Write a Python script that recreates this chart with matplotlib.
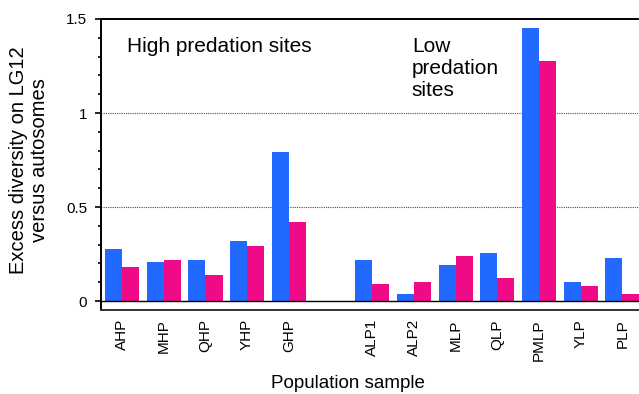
import numpy as np
import matplotlib
matplotlib.use('Agg')
import matplotlib.pyplot as plt
from matplotlib.ticker import MultipleLocator, FixedLocator

plt.rcParams['font.family'] = ['Liberation Sans', 'DejaVu Sans']

# population samples (empty slot separates high / low predation groups)
high_sites = ['AHP', 'MHP', 'QHP', 'YHP', 'GHP']
low_sites = ['ALP1', 'ALP2', 'MLP', 'QLP', 'PMLP', 'YLP', 'PLP']

high_blue = [0.277, 0.207, 0.218, 0.319, 0.793]
high_pink = [0.181, 0.218, 0.138, 0.293, 0.420]
low_blue = [0.218, 0.037, 0.191, 0.255, 1.452, 0.101, 0.229]
low_pink = [0.090, 0.101, 0.239, 0.122, 1.277, 0.080, 0.037]

BLUE = '#2169ff'
PINK = '#ef0a88'

labels = high_sites + low_sites
pos = np.r_[np.arange(len(high_sites)), np.arange(len(low_sites)) + len(high_sites) + 1]
blue = np.array(high_blue + low_blue)
pink = np.array(high_pink + low_pink)

fig = plt.figure(figsize=(6.39, 3.94), dpi=100)
ax = fig.add_axes([101 / 639, 1 - 309.5 / 394, 538 / 639, (309.5 - 19) / 394])

w = 0.41
ax.bar(pos - w / 2, blue, width=w, color=BLUE, zorder=2)
ax.bar(pos + w / 2, pink, width=w, color=PINK, zorder=2)

ax.axhline(0, color='k', lw=1.0, zorder=3)
for yy in (0.5, 1.0):
    ax.axhline(yy, color='#3c3cdd', lw=0.8, ls=(0, (1, 1)), zorder=1)

ax.set_xlim(-0.504, 12.398)
ax.set_ylim(-0.045, 1.5)

ax.set_xticks(pos)
ax.set_xticklabels(labels, rotation=90, fontsize=11, va='top')
ax.tick_params(axis='x', length=0, pad=7)

ax.yaxis.set_major_locator(FixedLocator([0, 0.5, 1, 1.5]))
ax.yaxis.set_minor_locator(MultipleLocator(0.1))
ax.set_yticklabels(['0', '0.5', '1', '1.5'])
ax.tick_params(axis='y', which='major', length=4, width=1.2, labelsize=11, pad=6)
ax.tick_params(axis='y', which='minor', length=2.5, width=1.2)

ax.spines['right'].set_visible(False)
for s in ('left', 'top', 'bottom'):
    ax.spines[s].set_linewidth(1.4)
ax.spines['bottom'].set_color('#333333')

ax.text(0.12, 1.324, 'High predation sites', fontsize=15, va='baseline', ha='left')
ax.text(6.95, 1.405, 'Low\npredation\nsites', fontsize=15, va='top', ha='left',
        linespacing=1.22)

fig.text(29 / 639, 1 - 160 / 394, 'Excess diversity on LG12\nversus autosomes',
         rotation=90, ha='center', va='center', fontsize=14.5, multialignment='center',
         linespacing=1.15)
fig.text(348 / 639, 1 - 383 / 394, 'Population sample', ha='center', va='center',
         fontsize=13.5)

fig.savefig('out.png', dpi=100)
